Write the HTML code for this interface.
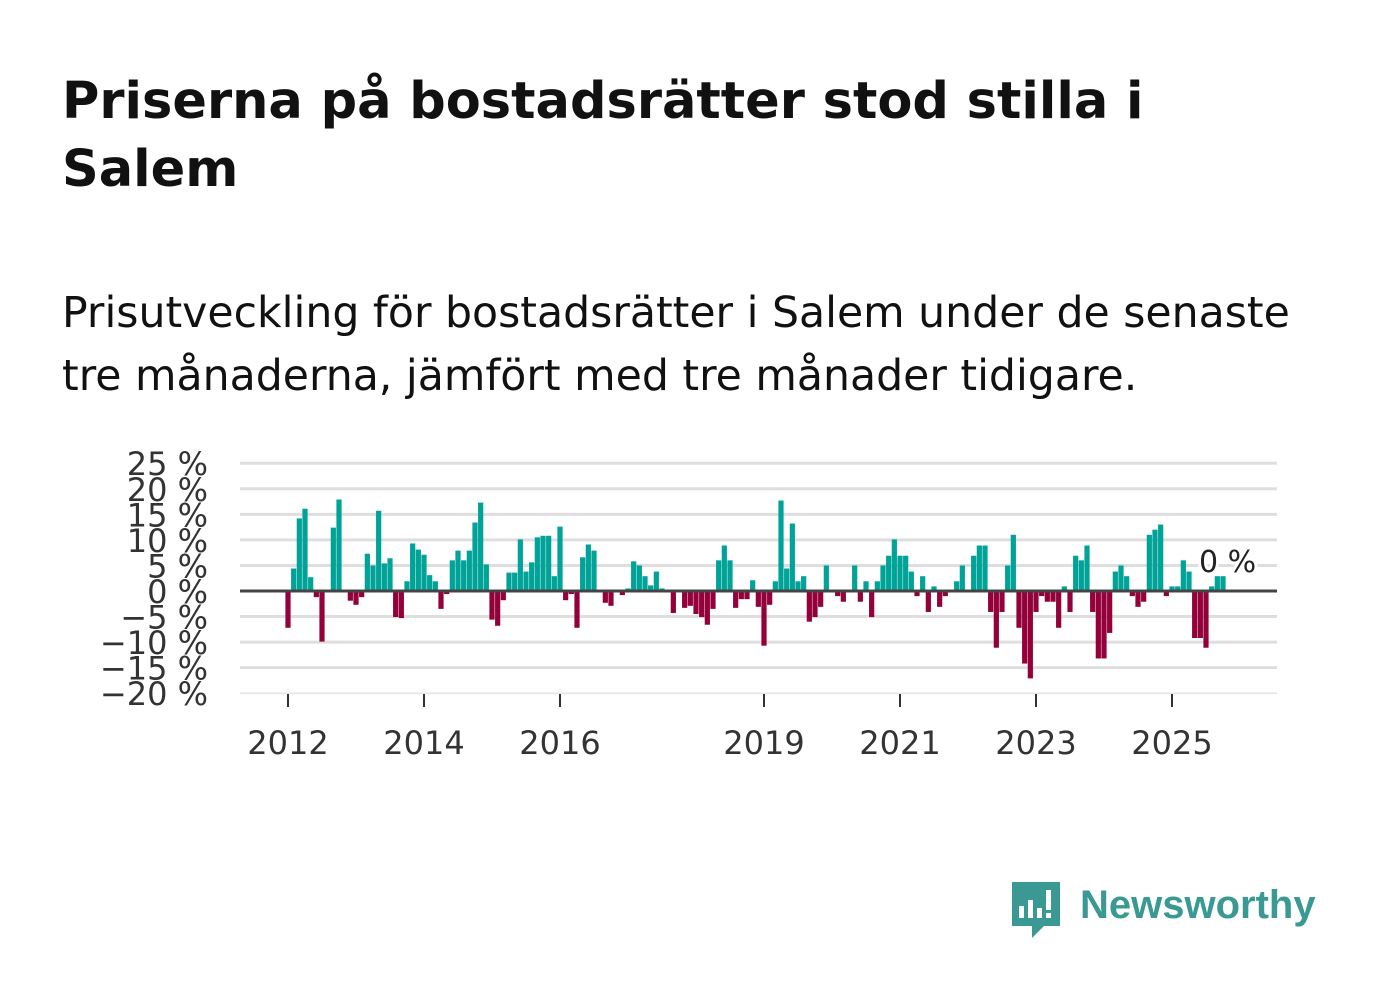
<!DOCTYPE html>
<html><head><meta charset="utf-8">
<style>
body{margin:0;width:1382px;height:999px;background:#fff;font-family:"DejaVu Sans","Liberation Sans",sans-serif;overflow:hidden;position:relative}
h1{position:absolute;left:62px;top:68px;margin:0;font-size:51px;line-height:68px;font-weight:bold;color:#111;white-space:nowrap}
.sub{position:absolute;left:62px;top:282px;margin:0;font-size:42.6px;line-height:63px;color:#111;white-space:nowrap}
svg{position:absolute;left:0;top:0}
</style></head><body>
<h1>Priserna på bostadsrätter stod stilla i<br>Salem</h1>
<p class="sub">Prisutveckling för bostadsrätter i Salem under de senaste<br>tre månaderna, jämfört med tre månader tidigare.</p>
<svg id="chart" width="1382" height="999" font-family="DejaVu Sans, sans-serif"></svg>
<script>
const values=[-7.2,4.4,14.2,16.1,2.7,-1.2,-9.9,0,12.4,17.9,0,-1.9,-2.7,-1.2,7.3,5.0,15.7,5.4,6.4,-5.1,-5.3,1.9,9.3,8.1,7.1,3.1,1.9,-3.5,-0.6,6.0,7.9,6.0,7.9,13.4,17.3,5.2,-5.6,-6.8,-1.8,3.6,3.6,10.1,3.8,5.6,10.5,10.8,10.8,2.9,12.6,-1.8,-0.6,-7.2,6.6,9.1,7.9,0,-2.3,-2.9,0,-0.8,0.5,5.8,5.0,2.9,1.1,3.8,0.5,0,-4.3,0,-3.3,-2.9,-4.5,-5.1,-6.6,-3.5,6.0,8.9,6.0,-3.3,-1.6,-1.6,2.1,-3.1,-10.7,-2.7,1.9,17.7,4.4,13.2,1.9,2.9,-6.0,-5.1,-3.1,5.0,0,-1.0,-2.1,0,5.0,-2.1,1.9,-5.1,1.9,5.0,6.9,10.1,6.9,6.9,3.8,-1.0,2.9,-4.1,0.9,-3.1,-1.0,0,1.9,5.0,0,6.9,8.9,8.9,-4.1,-11.1,-4.1,5.0,11.0,-7.2,-14.2,-17.1,-4.1,-1.0,-2.1,-2.1,-7.2,0.9,-4.1,6.9,6.0,8.9,-4.1,-13.2,-13.2,-8.2,3.8,5.0,2.9,-1.0,-3.1,-2.1,11.0,12.0,13.0,-1.0,0.9,0.9,6.0,3.8,-9.2,-9.2,-11.1,0.9,2.9,2.9];
const yTicks=[25,20,15,10,5,0,-5,-10,-15,-20];
const xTickYears=[2012,2014,2016,2019,2021,2023,2025];
const startYear=2012;
const lastLabel="0 %";
const NS="http://www.w3.org/2000/svg";
const svg=document.getElementById('chart');
const y=v=>591-v*5.111;
const x=i=>288+i*(68/12);
function mk(t,a,p){const e=document.createElementNS(NS,t);for(const k in a)e.setAttribute(k,a[k]);(p||svg).appendChild(e);return e;}
yTicks.forEach(t=>{
  if(t!==0){const g=mk('line',{x1:240,x2:1277,y1:y(t),y2:y(t),stroke:t===-20?'#e4e4e4':'#dedede','stroke-width':t===-20?1.5:3});
  
  }
  const l=mk('text',{x:208,y:y(t)+12,'text-anchor':'end','font-size':32,fill:'#333'});
  l.textContent=(t<0?'\u2212'+(-t):t)+' %';
  
  
});
values.forEach((v,i)=>{
  if(v===0)return;
  const r=mk('rect',{x:x(i)-2.6,y:v>0?y(v):y(0),width:5.2,height:Math.abs(y(v)-y(0)),fill:v>0?'#00a398':'#93003a'});
  
  
});
const z=mk('line',{x1:240,x2:1277,y1:y(0),y2:y(0),stroke:'#444','stroke-width':3});


xTickYears.forEach(yr=>{
  const xx=x((yr-startYear)*12);
  const tk=mk('line',{x1:xx,x2:xx,y1:694,y2:707,stroke:'#333','stroke-width':2});
  
  
  const l=mk('text',{x:xx,y:754,'text-anchor':'middle','font-size':32,fill:'#333'});
  l.textContent=yr;
  
  
});
const lab=mk('text',{x:1199,y:572,'font-size':30,fill:'#222',stroke:'#fff','stroke-width':6,'paint-order':'stroke'});
lab.textContent=lastLabel;


</script>
<svg width="1382" height="999" style="position:absolute;left:0;top:0">
<path d="M1012 882 h48 v44 h-16 l-12 12 v-12 h-20 z" fill="#3a9a93"/>
<rect x="1019" y="906" width="5" height="12" fill="#fff"/><rect x="1028" y="900" width="5" height="18" fill="#fff"/><rect x="1037" y="908" width="5" height="10" fill="#fff"/><rect x="1046" y="890" width="5" height="20" fill="#fff"/><rect x="1046" y="913" width="5" height="5" fill="#fff"/>
<text x="1080" y="918" font-size="40" font-weight="bold" fill="#3a9a93" font-family="Liberation Sans, sans-serif">Newsworthy</text>
</svg>
</body></html>
